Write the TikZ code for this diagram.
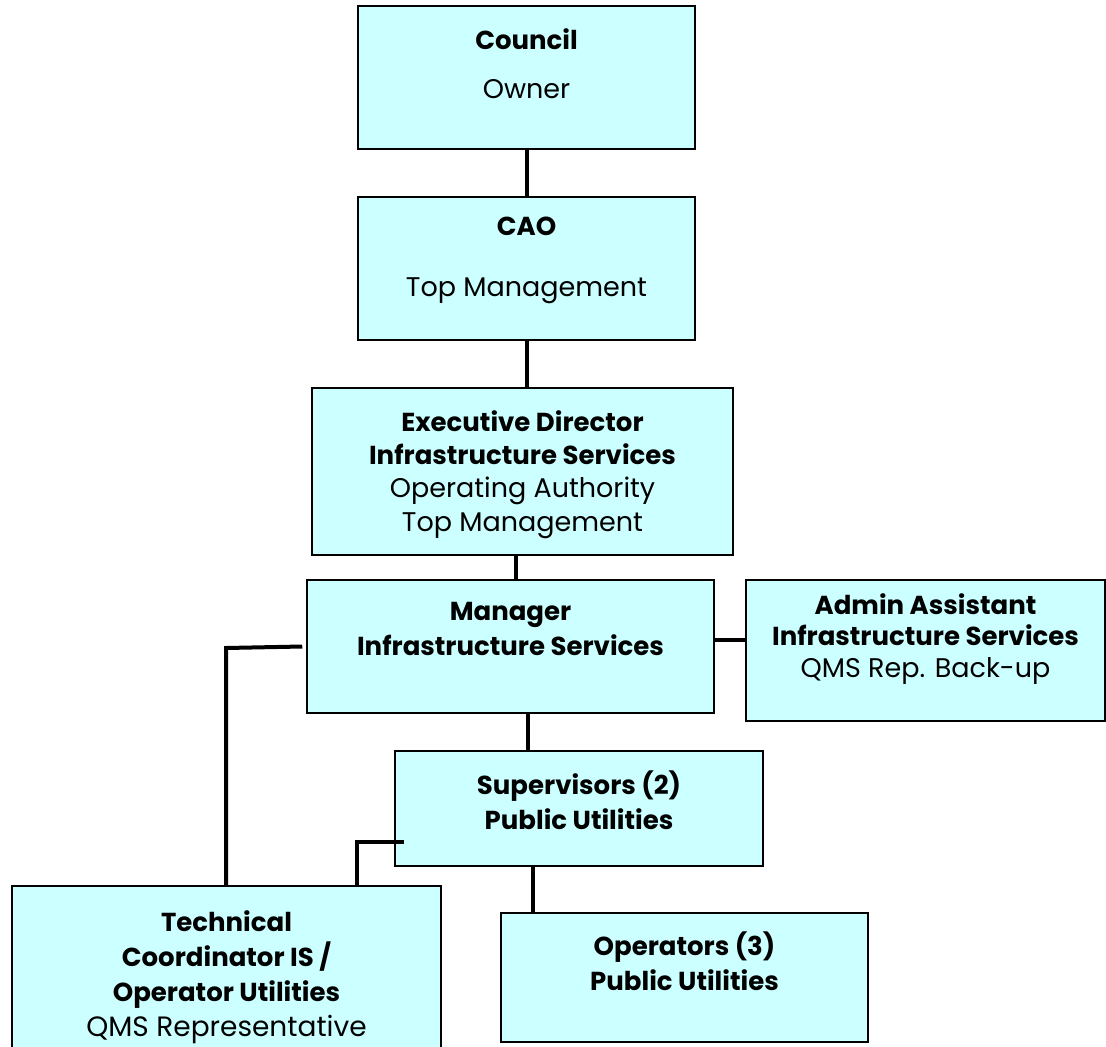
\documentclass[tikz,border=0pt]{standalone}
\usepackage{fontspec}
\setmainfont{Poppins}
\usetikzlibrary{positioning}
\definecolor{boxcyan}{HTML}{CCFFFF}
\tikzset{box/.style={draw=black,fill=boxcyan,line width=1.5pt,inner sep=0pt}}
\tikzset{txt/.style={align=center,inner sep=0pt,font=\fontsize{27}{35}\selectfont}}
\tikzset{link/.style={line width=4pt}}
\newcommand{\hd}[1]{{\fontsize{26}{35}\bfseries #1}}

\begin{document}
\begin{tikzpicture}[x=1pt,y=-1pt]
        \clip (0,0) rectangle (1106,1047);

        % boxes
        \node[box, minimum width=337pt, minimum height=143pt] (council) at (526.5,77.5) {};
        \node[box, minimum width=337pt, minimum height=143pt] (cao) at (526.5,268.5) {};
        \node[box, minimum width=421pt, minimum height=167pt] (exec) at (522.5,471.5) {};
        \node[box, minimum width=407pt, minimum height=133pt] (mgr) at (510.5,646.5) {};
        \node[box, minimum width=359pt, minimum height=141pt] (admin) at (925.5,650.5) {};
        \node[box, minimum width=368pt, minimum height=115pt] (sup) at (579,808.5) {};
        \node[box, minimum width=429pt, minimum height=184pt] (tech) at (226.5,978) {};
        \node[box, minimum width=367pt, minimum height=129pt] (ops) at (684.5,977.5) {};

        % texts
        \node[txt, below=23pt of council.north] (councilT) {\hd{Council}\\[14pt]Owner};
        \node[txt, below=21pt of cao.north] (caoT) {\hd{CAO}\\[26pt]Top Management};
        \node[txt, below=23pt of exec.north, font=\fontsize{27}{33.3}\selectfont] (execT)
            {\hd{Executive Director}\\\hd{Infrastructure Services}\\Operating Authority\\Top Management};
        \node[txt, below=23pt of mgr.north] (mgrT) {\hd{Manager}\\\hd{Infrastructure Services}};
        \node[txt, below=14pt of admin.north, font=\fontsize{27}{31.5}\selectfont] (adminT)
            {\hd{Admin Assistant}\\\hd{Infrastructure Services}\\QMS Rep. Back-up};
        \node[txt, below=20pt of sup.north] (supT) {\hd{Supervisors (2)}\\\hd{Public Utilities}};
        \node[txt, below=19pt of ops.north] (opsT) {\hd{Operators (3)}\\\hd{Public Utilities}};
        \node[txt, below=25pt of tech.north, font=\fontsize{28}{35}\selectfont] (techT)
            {\hd{Technical}\\\hd{Coordinator IS /}\\\hd{Operator Utilities}\\QMS Representative};

        % connectors
        \coordinate (mgrBend) at (226,648);
        \coordinate (supBend) at (357,842);
        \draw[link] (council.south) -- (cao.north);
        \draw[link] (cao.south) -- (cao.south |- exec.north);
        \draw[link] ([xshift=-6.5pt]exec.south) -- ([xshift=-6.5pt]exec.south |- mgr.north);
        \draw[link] ([yshift=6.5pt]mgr.east) -- ([yshift=6.5pt]mgr.east -| admin.west);
        \draw[link] ([xshift=17.5pt]mgr.south) -- ([xshift=17.5pt]mgr.south |- sup.north);
        \draw[link] ([xshift=-46pt]sup.south) -- ([xshift=-46pt]sup.south |- ops.north);
        \draw[link] ([xshift=-4pt]mgr.west) -- (mgrBend) -- (mgrBend |- tech.north);
        \draw[link] ([xshift=10pt]sup.west |- supBend) -- (supBend) -- (supBend |- tech.north);
\end{tikzpicture}
\end{document}
